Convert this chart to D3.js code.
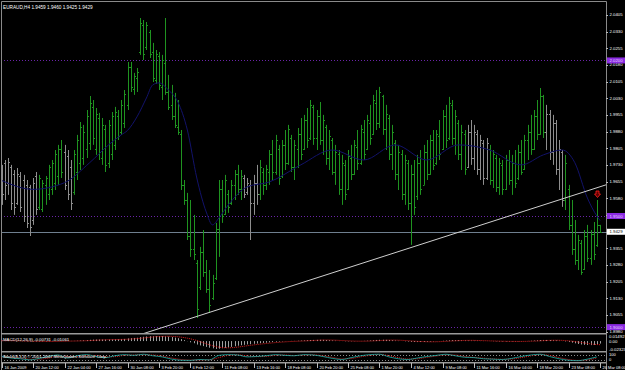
<!DOCTYPE html>
<meta charset="utf-8">
<script src="https://d3js.org/d3.v7.min.js"></script>
<style>
  body { margin: 0; background: #000; }
  text { font-family: "Liberation Sans", Arial, sans-serif; fill: #fff; }
</style>
<div id="chart"></div>
<script>
// ---- data ----
var header = "EURAUD,H4  1.9459 1.9460 1.9425 1.9429";

var opens = [
  1.9690,1.9740,1.9650,1.9720,1.9690,1.9560,1.9680,1.9660,1.9640,1.9630,
  1.9480,1.9680,1.9540,1.9530,1.9640,1.9600,1.9620,1.9650,1.9680,1.9800,
  1.9790,1.9770,1.9720,1.9610,1.9700,1.9740,1.9760,1.9800,1.9830,1.9990,
  1.9800,1.9940,1.9760,1.9890,1.9740,1.9780,1.9820,1.9950,1.9880,1.9920,
  2.0000,2.0170,2.0070,2.0120,2.0240,2.0360,2.0260,2.0330,2.0240,2.0110,
  2.0220,2.0080,2.0190,2.0060,2.0000,1.9950,1.9900,1.9870,1.9640,1.9570,
  1.9410,1.9350,1.9290,1.9180,1.9340,1.9250,1.9170,1.9130,1.9220,1.9440,
  1.9620,1.9510,1.9600,1.9560,1.9640,1.9690,1.9620,1.9670,1.9610,1.9640,
  1.9560,1.9650,1.9600,1.9700,1.9640,1.9700,1.9780,1.9700,1.9800,1.9680,
  1.9820,1.9740,1.9850,1.9720,1.9800,1.9870,1.9800,1.9930,1.9850,1.9990,
  1.9850,1.9950,1.9840,1.9900,1.9760,1.9840,1.9700,1.9780,1.9620,1.9730,
  1.9620,1.9760,1.9690,1.9810,1.9740,1.9880,1.9800,1.9920,1.9870,2.0010,
  1.9920,2.0040,1.9890,1.9940,1.9780,1.9830,1.9690,1.9780,1.9600,1.9740,
  1.9560,1.9690,1.9590,1.9740,1.9640,1.9790,1.9690,1.9840,1.9740,1.9860,
  1.9800,1.9950,1.9850,2.0000,1.9850,1.9920,1.9780,1.9870,1.9720,1.9880,
  1.9760,1.9870,1.9710,1.9830,1.9670,1.9800,1.9660,1.9760,1.9630,1.9730,
  1.9620,1.9750,1.9660,1.9740,1.9670,1.9790,1.9710,1.9840,1.9880,1.9800,
  1.9950,1.9870,2.0040,1.9880,1.9960,1.9790,1.9920,1.9710,1.9790,1.9570,
  1.9620,1.9460,1.9350,1.9300,1.9380,1.9260,1.9410,1.9310,1.9420,1.9370,1.9459
];
var highs = [
  1.9730,1.9752,1.9761,1.9730,1.9707,1.9716,1.9698,1.9685,1.9662,1.9640,
  1.9671,1.9698,1.9685,1.9662,1.9680,1.9730,1.9752,1.9797,1.9820,1.9842,
  1.9820,1.9797,1.9752,1.9797,1.9865,1.9923,1.9910,1.9977,2.0040,2.0022,
  1.9986,1.9964,1.9941,1.9910,1.9932,1.9968,1.9991,1.9977,2.0022,2.0067,
  2.0193,2.0193,2.0144,2.0166,2.0391,2.0382,2.0373,2.0337,2.0279,2.0247,
  2.0238,2.0225,2.0391,2.0135,2.0090,2.0054,2.0022,1.9887,1.9662,1.9604,
  1.9572,1.9505,1.9302,1.9361,1.9437,1.9302,1.9257,1.9235,1.9469,1.9662,
  1.9662,1.9685,1.9617,1.9662,1.9707,1.9730,1.9707,1.9685,1.9671,1.9662,
  1.9685,1.9730,1.9752,1.9716,1.9730,1.9797,1.9842,1.9865,1.9820,1.9842,
  1.9887,1.9910,1.9865,1.9842,1.9896,1.9941,1.9955,1.9986,2.0022,2.0000,
  1.9977,2.0013,1.9955,1.9910,1.9887,1.9851,1.9820,1.9797,1.9775,1.9752,
  1.9797,1.9820,1.9842,1.9887,1.9910,1.9932,1.9955,2.0000,2.0045,2.0067,
  2.0081,2.0045,2.0000,1.9955,1.9910,1.9842,1.9820,1.9797,1.9775,1.9752,
  1.9730,1.9752,1.9775,1.9797,1.9820,1.9842,1.9865,1.9887,1.9887,1.9932,
  1.9977,2.0000,2.0036,2.0022,1.9977,1.9932,1.9910,1.9887,1.9910,1.9932,
  1.9910,1.9887,1.9865,1.9842,1.9851,1.9820,1.9797,1.9775,1.9761,1.9752,
  1.9775,1.9797,1.9775,1.9797,1.9820,1.9842,1.9865,1.9910,1.9955,1.9977,
  2.0022,2.0076,2.0045,2.0000,1.9977,1.9955,1.9932,1.9842,1.9797,1.9775,
  1.9640,1.9572,1.9482,1.9415,1.9392,1.9437,1.9460,1.9437,1.9473,1.9572,1.9460
];
var lows = [
  1.9550,1.9572,1.9595,1.9527,1.9505,1.9550,1.9518,1.9473,1.9446,1.9410,
  1.9460,1.9505,1.9527,1.9518,1.9550,1.9572,1.9595,1.9617,1.9640,1.9671,
  1.9617,1.9572,1.9527,1.9595,1.9662,1.9707,1.9730,1.9761,1.9797,1.9820,
  1.9775,1.9752,1.9730,1.9698,1.9716,1.9752,1.9797,1.9842,1.9865,1.9896,
  1.9977,2.0058,2.0045,2.0058,2.0225,2.0202,2.0247,2.0211,2.0103,2.0094,
  2.0067,2.0022,2.0045,1.9977,1.9932,1.9896,1.9865,1.9617,1.9550,1.9392,
  1.9316,1.9302,1.9041,1.9167,1.9226,1.9154,1.9064,1.9122,1.9212,1.9316,
  1.9469,1.9505,1.9514,1.9550,1.9572,1.9595,1.9572,1.9581,1.9595,1.9392,
  1.9505,1.9550,1.9572,1.9595,1.9617,1.9640,1.9662,1.9685,1.9640,1.9671,
  1.9707,1.9730,1.9698,1.9662,1.9716,1.9752,1.9797,1.9806,1.9842,1.9820,
  1.9797,1.9820,1.9775,1.9730,1.9707,1.9685,1.9640,1.9595,1.9550,1.9572,
  1.9617,1.9662,1.9685,1.9707,1.9730,1.9752,1.9797,1.9820,1.9865,1.9887,
  1.9896,1.9865,1.9797,1.9752,1.9707,1.9662,1.9617,1.9572,1.9550,1.9527,
  1.9370,1.9505,1.9572,1.9595,1.9640,1.9662,1.9685,1.9707,1.9730,1.9752,
  1.9797,1.9806,1.9842,1.9820,1.9775,1.9752,1.9707,1.9685,1.9716,1.9730,
  1.9707,1.9685,1.9662,1.9640,1.9662,1.9640,1.9626,1.9608,1.9595,1.9595,
  1.9617,1.9640,1.9595,1.9626,1.9662,1.9685,1.9707,1.9752,1.9775,1.9797,
  1.9842,1.9865,1.9851,1.9797,1.9752,1.9730,1.9685,1.9617,1.9541,1.9527,
  1.9437,1.9325,1.9280,1.9257,1.9235,1.9257,1.9293,1.9280,1.9302,1.9361,1.9425
];
var closes = [
  1.9600,1.9640,1.9745,1.9560,1.9540,1.9690,1.9540,1.9500,1.9470,1.9450,
  1.9650,1.9530,1.9670,1.9650,1.9670,1.9720,1.9740,1.9780,1.9800,1.9700,
  1.9640,1.9600,1.9560,1.9780,1.9840,1.9900,1.9880,1.9950,2.0010,1.9850,
  1.9960,1.9790,1.9910,1.9730,1.9910,1.9950,1.9970,1.9860,2.0000,2.0050,
  2.0170,2.0080,2.0130,2.0150,2.0370,2.0230,2.0360,2.0230,2.0120,2.0230,
  2.0090,2.0200,2.0060,1.9990,1.9950,1.9910,1.9880,1.9640,1.9570,1.9410,
  1.9350,1.9330,1.9080,1.9340,1.9250,1.9170,1.9100,1.9200,1.9440,1.9620,
  1.9500,1.9660,1.9540,1.9640,1.9690,1.9620,1.9680,1.9600,1.9650,1.9560,
  1.9650,1.9600,1.9720,1.9640,1.9710,1.9780,1.9700,1.9840,1.9670,1.9820,
  1.9740,1.9890,1.9720,1.9820,1.9870,1.9780,1.9930,1.9840,2.0000,1.9850,
  1.9950,1.9840,1.9930,1.9760,1.9860,1.9700,1.9790,1.9620,1.9740,1.9600,
  1.9770,1.9690,1.9820,1.9740,1.9890,1.9780,1.9930,1.9850,2.0020,1.9920,
  2.0060,1.9890,1.9960,1.9780,1.9880,1.9690,1.9790,1.9600,1.9750,1.9560,
  1.9690,1.9540,1.9740,1.9620,1.9790,1.9690,1.9840,1.9730,1.9870,1.9780,
  1.9950,1.9840,2.0010,1.9850,1.9950,1.9780,1.9880,1.9710,1.9880,1.9760,
  1.9880,1.9710,1.9840,1.9670,1.9830,1.9660,1.9780,1.9630,1.9740,1.9620,
  1.9750,1.9660,1.9740,1.9650,1.9790,1.9700,1.9840,1.9880,1.9800,1.9950,
  1.9870,2.0040,1.9880,1.9960,1.9790,1.9920,1.9710,1.9800,1.9570,1.9740,
  1.9460,1.9350,1.9300,1.9390,1.9250,1.9410,1.9310,1.9420,1.9330,1.9460,1.9429
];
// stretches where the bars are painted grey instead of green
var flatRanges = [[0, 11], [20, 22], [77, 81], [148, 154], [173, 178]];

// moving average (dark blue curve)
var maBars   = [0, 10, 20, 28, 34, 38, 40, 43, 46, 48, 50, 53, 56, 59, 62, 65, 67, 69, 72, 78, 85, 95, 105, 115, 125, 135, 145, 155, 165, 172, 178, 182, 186, 189, 190];
var maValues = [1.9660, 1.9620, 1.9650, 1.9740, 1.9820, 1.9865, 1.9885, 1.9946, 2.0031, 2.0090, 2.0099, 2.0067, 2.0013, 1.9887, 1.9671, 1.9518, 1.9460, 1.9491, 1.9550, 1.9631, 1.9653, 1.9730, 1.9797, 1.9752, 1.9820, 1.9752, 1.9820, 1.9797, 1.9730, 1.9775, 1.9797, 1.9740, 1.9581, 1.9500, 1.9480];

// trendline anchors (bar, price)
var trendBars = [62, 189];
var trendValues = [1.9048, 1.9627];
var arrowBar = 189;

var levelLines = [2.0200, 1.9500, 1.9000];
var bidPrice = 1.9429;
var priceTicks = [2.0405, 2.0330, 2.0255, 2.0180, 2.0105, 2.0030, 1.9955, 1.9880, 1.9805, 1.9730,
                  1.9655, 1.9580, 1.9505, 1.9430, 1.9355, 1.9280, 1.9205, 1.9130, 1.9055, 1.8980];

var timeLabels = ["16 Jan 2009", "20 Jan 12:00", "22 Jan 04:00", "27 Jan 16:00", "30 Jan 08:00",
                  "3 Feb 20:00", "6 Feb 12:00", "11 Feb 08:00", "13 Feb 16:00", "18 Feb 08:00",
                  "20 Feb 20:00", "25 Feb 08:00", "1 Mar 20:00", "4 Mar 12:00", "9 Mar 08:00",
                  "11 Mar 16:00", "16 Mar 04:00", "18 Mar 20:00", "23 Mar 08:00", "26 Mar 08:00"];

// MACD(12,26,9) main (histogram) and signal, one value per bar
var macdMain = [
  0.0015,0.0012,0.0010,0.0006,0.0002,-0.0001,-0.0004,-0.0008,-0.0012,-0.0016,
  -0.0017,-0.0016,-0.0015,-0.0014,-0.0013,-0.0010,-0.0006,-0.0001,0.0004,0.0008,
  0.0010,0.0009,0.0005,0.0006,0.0010,0.0016,0.0022,0.0029,0.0037,0.0042,
  0.0045,0.0046,0.0046,0.0044,0.0045,0.0048,0.0052,0.0053,0.0058,0.0064,
  0.0078,0.0086,0.0092,0.0098,0.0116,0.0126,0.0136,0.0142,0.0143,0.0146,
  0.0149,0.0147,0.0142,0.0132,0.0118,0.0102,0.0085,0.0058,0.0029,-0.0005,
  -0.0036,-0.0063,-0.0102,-0.0128,-0.0148,-0.0170,-0.0195,-0.0214,-0.0232,-0.0224,
  -0.0210,-0.0198,-0.0186,-0.0170,-0.0152,-0.0136,-0.0122,-0.0110,-0.0098,-0.0092,
  -0.0080,-0.0072,-0.0062,-0.0055,-0.0048,-0.0038,-0.0029,-0.0020,-0.0016,-0.0010,
  -0.0004,0.0002,0.0005,0.0006,0.0010,0.0015,0.0020,0.0026,0.0032,0.0034,
  0.0036,0.0038,0.0036,0.0030,0.0025,0.0019,0.0012,0.0004,-0.0002,-0.0008,
  -0.0009,-0.0008,-0.0006,-0.0002,0.0003,0.0007,0.0012,0.0018,0.0026,0.0033,
  0.0038,0.0039,0.0037,0.0032,0.0025,0.0016,0.0008,-0.0001,-0.0009,-0.0016,
  -0.0024,-0.0028,-0.0029,-0.0028,-0.0025,-0.0021,-0.0016,-0.0010,-0.0005,0.0002,
  0.0010,0.0016,0.0023,0.0027,0.0028,0.0026,0.0022,0.0018,0.0015,0.0013,
  0.0011,0.0009,0.0006,0.0003,0.0001,-0.0002,-0.0005,-0.0008,-0.0010,-0.0012,
  -0.0012,-0.0011,-0.0011,-0.0010,-0.0008,-0.0005,-0.0001,0.0005,0.0010,0.0016,
  0.0023,0.0030,0.0033,0.0033,0.0030,0.0026,0.0020,0.0010,-0.0002,-0.0012,
  -0.0028,-0.0046,-0.0066,-0.0084,-0.0100,-0.0110,-0.0116,-0.0118,-0.0113,-0.0095,-0.00731
];
var macdSignal = [
  0.0010,0.0011,0.0011,0.0010,0.0009,0.0007,0.0005,0.0003,0.0001,-0.0002,
  -0.0004,-0.0006,-0.0008,-0.0010,-0.0012,-0.0013,-0.0013,-0.0012,-0.0010,-0.0008,
  -0.0005,-0.0002,0.0000,0.0002,0.0004,0.0006,0.0008,0.0011,0.0015,0.0020,
  0.0025,0.0030,0.0034,0.0038,0.0041,0.0043,0.0045,0.0047,0.0049,0.0051,
  0.0055,0.0060,0.0066,0.0073,0.0081,0.0090,0.0100,0.0110,0.0120,0.0128,
  0.0134,0.0138,0.0140,0.0141,0.0139,0.0134,0.0127,0.0116,0.0102,0.0086,
  0.0066,0.0043,0.0017,-0.0014,-0.0046,-0.0078,-0.0108,-0.0136,-0.0160,-0.0178,
  -0.0190,-0.0196,-0.0197,-0.0194,-0.0187,-0.0176,-0.0164,-0.0150,-0.0137,-0.0125,
  -0.0113,-0.0102,-0.0091,-0.0081,-0.0071,-0.0062,-0.0053,-0.0045,-0.0037,-0.0030,
  -0.0023,-0.0017,-0.0012,-0.0008,-0.0004,0.0000,0.0004,0.0008,0.0013,0.0018,
  0.0023,0.0027,0.0030,0.0031,0.0031,0.0029,0.0026,0.0022,0.0017,0.0012,
  0.0007,0.0003,0.0000,-0.0002,-0.0003,-0.0003,-0.0001,0.0002,0.0006,0.0011,
  0.0016,0.0021,0.0025,0.0028,0.0029,0.0028,0.0026,0.0022,0.0017,0.0011,
  0.0005,-0.0001,-0.0007,-0.0012,-0.0016,-0.0019,-0.0021,-0.0021,-0.0020,-0.0017,
  -0.0013,-0.0008,-0.0002,0.0003,0.0008,0.0012,0.0016,0.0019,0.0020,0.0021,
  0.0020,0.0018,0.0016,0.0013,0.0010,0.0007,0.0004,0.0001,-0.0002,-0.0004,
  -0.0006,-0.0008,-0.0009,-0.0010,-0.0010,-0.0010,-0.0009,-0.0007,-0.0004,-0.0001,
  0.0003,0.0008,0.0013,0.0018,0.0021,0.0023,0.0024,0.0023,0.0020,0.0015,
  0.0008,-0.0001,-0.0013,-0.0026,-0.0040,-0.0055,-0.0069,-0.0082,-0.0093,-0.0101,-0.01061
];
var macdTicks = [0.01492, 0, -0.02323];
var macdLabel = "MACD(12,26,9) -0.00731 -0.01061";

// lower oscillator, sampled every third bar
var oscBars   = d3.range(0, 190, 3);
var oscMain   = [60,40,30,15,35,60,80,40,70,85,60,45,70,85,75,90,70,55,25,10,8,20,15,75,85,80,55,60,70,85,75,70,85,80,60,35,20,45,70,85,90,55,30,20,40,60,75,90,70,50,45,30,25,20,35,60,80,90,60,30,10,5,25,55];
var oscSignal = [55,48,36,25,25,40,65,60,58,75,72,55,58,75,80,83,80,65,40,20,12,14,16,45,75,82,68,58,62,75,80,73,78,82,70,48,28,33,55,75,87,72,45,26,30,48,66,82,80,60,48,38,28,23,27,45,68,85,75,45,20,8,15,40];
var oscLabel = "Stoch(8,3,3) \u00a9 2001-2007 MetaQuotes Software Corp.";

// ---- layout ----
var W = 625, H = 370;
var plotL = 1, plotR = 606;
var main = {top: 2, bottom: 333};
var macdWin = {top: 334, bottom: 351};
var oscWin = {top: 352, bottom: 362};

var svg = d3.select("#chart").append("svg")
    .attr("width", W).attr("height", H)
    .style("background", "#000");

var x = d3.scaleLinear().domain([0, 190]).range([1.5, 600]);
var y = d3.scaleLinear().domain([1.89735, 2.0463]).range([main.bottom, main.top]);
var yMacd = d3.scaleLinear().domain([-0.02323, 0.01492]).range([349, 336]);
var yOsc = d3.scaleLinear().domain([0, 100]).range([361, 353.5]);

function px(i) { return Math.round(x(i)) + 0.5; }
function crisp(v) { return Math.round(v) + 0.5; }

svg.append("clipPath").attr("id", "clipMain")
  .append("rect").attr("x", plotL).attr("y", main.top).attr("width", plotR - plotL).attr("height", main.bottom - main.top);

var gMain = svg.append("g").attr("clip-path", "url(#clipMain)");

// level lines
gMain.selectAll("line.level").data(levelLines).join("line")
    .attr("x1", plotL).attr("x2", plotR)
    .attr("y1", d => crisp(y(d))).attr("y2", d => crisp(y(d)))
    .attr("stroke", "#6a24a8").attr("stroke-dasharray", "1,2");

// bid line
gMain.append("line")
    .attr("x1", plotL).attr("x2", plotR)
    .attr("y1", crisp(y(bidPrice))).attr("y2", crisp(y(bidPrice)))
    .attr("stroke", "#6f7f8f");

// bars
var bars = highs.map(function(h, i) {
  return {i: i, o: opens[i], h: h, l: lows[i], c: closes[i],
          flat: flatRanges.some(r => i >= r[0] && i <= r[1])};
});
gMain.selectAll("path.bar").data(bars).join("path")
    .attr("class", "bar")
    .attr("d", function(d) {
      var xx = px(d.i);
      return "M" + xx + "," + y(d.h) + "V" + y(d.l) +
             "M" + (xx - 1.5) + "," + crisp(y(d.o)) + "h1.5" +
             "M" + xx + "," + crisp(y(d.c)) + "h1.5";
    })
    .attr("stroke", d => d.flat ? "#8e8e8e" : "#1f9320")
    .attr("fill", "none");

// moving average
gMain.append("path")
    .datum(maBars.map((b, k) => [b, maValues[k]]))
    .attr("d", d3.line().x(d => x(d[0])).y(d => y(d[1])).curve(d3.curveMonotoneX))
    .attr("fill", "none").attr("stroke", "#12126a").attr("stroke-width", 1);

// trendline (extended to both window edges, clipped)
var slope = (trendValues[1] - trendValues[0]) / (trendBars[1] - trendBars[0]);
var tEnd = x.invert(plotR);
gMain.append("line")
    .attr("x1", x(0)).attr("y1", y(trendValues[0] + slope * (0 - trendBars[0])))
    .attr("x2", plotR).attr("y2", y(trendValues[0] + slope * (tEnd - trendBars[0])))
    .attr("stroke", "#cfcfcf").attr("stroke-width", 1);

// red arrow above the signal bar
var ax = px(arrowBar), ay = y(highs[arrowBar]) - 2;
gMain.append("path")
    .attr("d", "M" + (ax - 1.5) + "," + (ay - 7) + "h3v3h1.5l-3,3.5l-3,-3.5h1.5z")
    .attr("fill", "#600000").attr("stroke", "#ff2020").attr("stroke-width", 0.8);

// header
svg.append("text").attr("x", 3).attr("y", 9).style("font-size", "4.7px").text(header);

// frame & window separators
svg.append("path")
    .attr("d", "M" + plotL + ".5," + H + "V1.5H" + plotR + ".5V" + H)
    .attr("fill", "none").attr("stroke", "#8a8a8a");
[main.bottom, macdWin.bottom, oscWin.bottom].forEach(function(v) {
  svg.append("rect").attr("x", plotL).attr("y", v).attr("width", plotR - plotL).attr("height", 1.5).attr("fill", "#9a9a9a");
});

// price axis
var gAxis = svg.append("g");
gAxis.selectAll("text.pt").data(priceTicks).join("text")
    .attr("x", plotR + 3.5).attr("y", d => y(d))
    .attr("dy", "0.35em").style("font-size", "4.3px").text(d => d.toFixed(4));
gAxis.selectAll("line.pt").data(priceTicks).join("line")
    .attr("x1", plotR).attr("x2", plotR + 2)
    .attr("y1", d => crisp(y(d))).attr("y2", d => crisp(y(d)))
    .attr("stroke", "#bbb");

// coloured price tags
function tag(v, fill, color) {
  var yy = y(v);
  gAxis.append("rect").attr("x", plotR + 1).attr("y", yy - 3).attr("width", 18).attr("height", 6).attr("fill", fill);
  gAxis.append("text").attr("x", plotR + 3.5).attr("y", yy).attr("dy", "0.35em")
      .style("font-size", "4.3px").style("fill", color).text(v.toFixed(4));
}
levelLines.forEach(v => tag(v, "#8a2be2", "#e8d8ff"));
tag(bidPrice, "#ffffff", "#000000");

// MACD window
var gMacd = svg.append("g");
gMacd.selectAll("line.h").data(macdMain).join("line")
    .attr("x1", (d, i) => px(i)).attr("x2", (d, i) => px(i))
    .attr("y1", yMacd(0)).attr("y2", d => yMacd(d))
    .attr("stroke", "#c8c8c8").attr("stroke-width", 0.8);
gMacd.append("path")
    .datum(macdSignal)
    .attr("d", d3.line().x((d, i) => x(i)).y(d => yMacd(d)))
    .attr("fill", "none").attr("stroke", "#e02020").attr("stroke-dasharray", "1,1");
gMacd.append("text").attr("x", 3).attr("y", 339.5).attr("dy", "0.35em").style("font-size", "4.3px").text(macdLabel);
gMacd.selectAll("text.t").data(macdTicks).join("text")
    .attr("x", plotR + 3).attr("y", d => yMacd(d)).attr("dy", "0.35em")
    .style("font-size", "4.3px").text(d => d === 0 ? "0.00" : d.toFixed(5));

// oscillator window
var gOsc = svg.append("g");
[20, 80].forEach(function(v) {
  gOsc.append("line").attr("x1", plotL).attr("x2", plotR)
      .attr("y1", crisp(yOsc(v))).attr("y2", crisp(yOsc(v)))
      .attr("stroke", "#8a8a8a").attr("stroke-dasharray", "1,2");
});
gOsc.append("path").datum(oscSignal)
    .attr("d", d3.line().x((d, k) => x(oscBars[k])).y(d => yOsc(d)).curve(d3.curveMonotoneX))
    .attr("fill", "none").attr("stroke", "#e02020").attr("stroke-dasharray", "1,1");
gOsc.append("path").datum(oscMain)
    .attr("d", d3.line().x((d, k) => x(oscBars[k])).y(d => yOsc(d)).curve(d3.curveMonotoneX))
    .attr("fill", "none").attr("stroke", "#20b2aa").attr("stroke-width", 0.8);
gOsc.append("text").attr("x", 3).attr("y", 356.5).attr("dy", "0.35em").style("font-size", "4.3px").text(oscLabel);
gOsc.append("text").attr("x", plotR + 3).attr("y", 355).attr("dy", "0.35em").style("font-size", "4px").text("100");
gOsc.append("text").attr("x", plotR + 3).attr("y", 360).attr("dy", "0.35em").style("font-size", "4px").text("0");

// time axis
var gTime = svg.append("g");
timeLabels.forEach(function(t, k) {
  var xx = px(k * 10);
  gTime.append("line").attr("x1", xx).attr("x2", xx).attr("y1", 363).attr("y2", 368).attr("stroke", "#bbb");
  gTime.append("text").attr("x", xx + 2).attr("y", 368.5).style("font-size", "4px").text(t);
});
</script>
